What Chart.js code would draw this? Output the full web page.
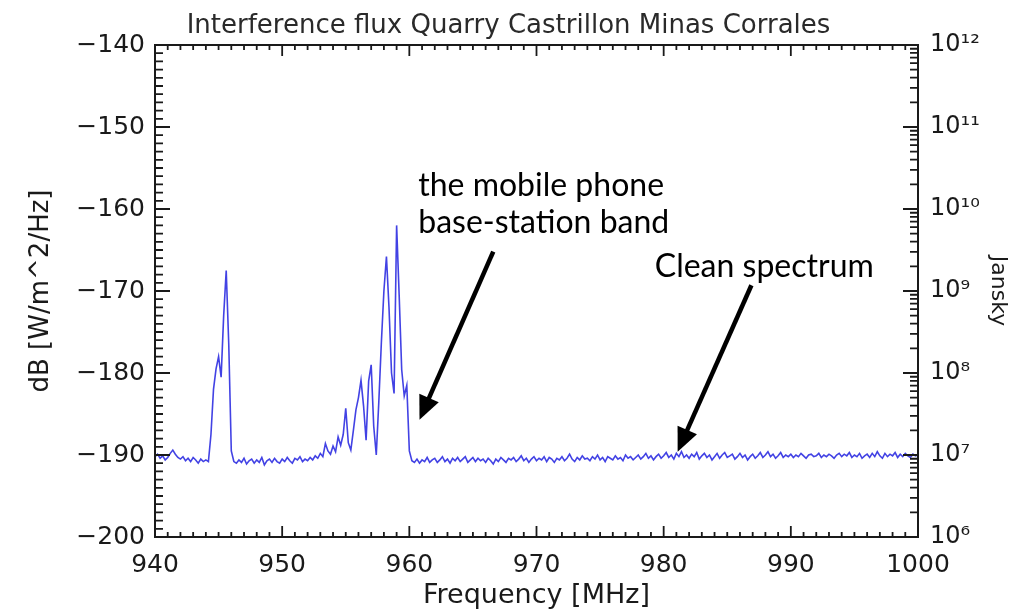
<!DOCTYPE html>
<html>
<head>
<meta charset="utf-8">
<title>Interference flux</title>
<script src="https://cdn.jsdelivr.net/npm/chart.js@4.4.0/dist/chart.umd.min.js"></script>
<style>
  html, body { margin: 0; padding: 0; background: #fff; }
  #wrap { width: 1017px; height: 612px; }
</style>
</head>
<body>
<div id="wrap"><canvas id="spectrum"></canvas></div>
<script>
// spectrum sampled every 0.2 MHz from 940 MHz
const freqStart = 940;
const freqStep = 0.2;
const fluxDb = [
  -190.2, -189.9, -190.4, -190.1, -190.6, -190.3, -189.8, -189.4, -189.9, -190.3,
  -190.5, -190.2, -190.7, -190.4, -190.8, -190.3, -190.6, -191.0, -190.5, -190.8,
  -190.6, -190.8, -187.5, -182.0, -179.5, -178.0, -180.5, -173.0, -167.5, -176.5,
  -189.5, -190.8, -191.0, -190.6, -190.9, -190.4, -191.1, -190.7, -190.5, -191.0,
  -190.6, -190.9, -190.3, -191.2, -190.7, -190.5, -190.9, -190.4, -190.8, -191.0,
  -190.5, -190.8, -190.3, -190.7, -191.0, -190.4, -190.6, -190.2, -190.8, -190.5,
  -190.7, -190.3, -190.6, -190.1, -190.4, -189.8, -190.2, -188.6, -189.5, -189.9,
  -188.9, -189.6, -187.8, -188.8, -187.5, -184.3, -188.5, -189.4, -187.0, -184.5,
  -183.0, -180.9, -184.0, -188.2, -181.0, -179.0, -186.5, -190.0, -183.5, -176.3,
  -170.0, -165.8, -172.0, -180.0, -182.5, -162.0, -170.5, -179.6, -182.8, -181.5,
  -189.5, -190.7, -190.9, -190.5, -191.0, -190.6, -190.8, -190.3, -190.9, -190.6,
  -190.4, -190.9, -190.6, -190.2, -190.8, -190.5, -191.0, -190.4, -190.7, -190.3,
  -190.8, -190.5, -190.2, -190.9, -190.6, -190.3, -190.8, -190.4, -190.7, -190.5,
  -190.9, -190.4, -190.7, -191.1, -190.5, -190.8, -190.3, -190.6, -190.9, -190.4,
  -190.6, -190.3, -190.8, -190.5, -190.1, -190.7, -190.4, -190.9, -190.5, -190.2,
  -190.7, -190.4, -190.6, -190.2, -190.8, -190.3, -190.5, -190.9, -190.4, -190.6,
  -190.2, -190.7, -190.4, -189.9, -190.5, -190.8, -190.3, -190.6, -190.1, -190.5,
  -190.4, -190.7, -190.2, -190.5, -190.0, -190.6, -190.3, -190.8, -190.2, -190.4,
  -190.6, -190.1, -190.5, -190.3, -190.7, -190.0, -190.4, -190.2, -190.6, -190.3,
  -190.0, -190.5, -190.2, -189.8, -190.4, -190.1, -190.6, -190.2, -189.9, -190.4,
  -190.1, -189.7, -190.3, -190.0, -190.5, -189.8, -190.2, -189.6, -190.3, -190.0,
  -190.4, -189.9, -190.2, -189.7, -190.5, -190.1, -189.8, -190.3, -190.0, -190.6,
  -190.2, -189.8, -190.4, -190.0, -189.7, -190.3, -190.1, -189.9, -190.5, -190.2,
  -189.8, -190.3, -190.0, -190.6, -190.2, -189.9, -190.4, -190.1, -189.7, -190.3,
  -190.0, -189.6, -190.2, -189.9, -190.4, -190.1, -189.7, -190.3, -190.0, -190.2,
  -189.9, -190.3, -190.0, -190.2, -189.8, -190.1, -190.4, -190.0, -189.9, -190.2,
  -190.1, -189.8, -190.3, -190.0, -190.2, -189.9, -190.1, -190.4, -190.0, -189.8,
  -190.2, -189.9, -190.1, -189.7, -190.3, -190.0, -190.2, -189.8, -190.4, -190.1,
  -189.9, -190.3, -189.8, -190.2, -189.6, -190.1, -190.4, -189.8, -190.2, -189.9,
  -190.1, -189.7, -190.3, -189.9, -190.2, -189.8, -190.1, -190.3, -189.9, -190.1,
  -190.0
];

const freqTicks = [940, 950, 960, 970, 980, 990, 1000];
const dbTicks = [-200, -190, -180, -170, -160, -150, -140];
const janskyTicks = [1e6, 1e7, 1e8, 1e9, 1e10, 1e11, 1e12];
const janskyLabels = ['10\u2076', '10\u2077', '10\u2078', '10\u2079', '10\u00b9\u2070', '10\u00b9\u00b9', '10\u00b9\u00b2'];

// callouts, placed in (MHz, dB)
const notes = [
  { lines: ['the mobile phone', 'base-station band'], at: [960.7, -157.1], tail: [966.6, -165.2], tip: [960.8, -185.7] },
  { lines: ['Clean spectrum'], at: [979.3, -167.0], tail: [986.9, -169.3], tip: [981.1, -189.6] }
];

const points = fluxDb.map((v, i) => ({ x: +(freqStart + i * freqStep).toFixed(1), y: v }));

const axisFont = { family: 'DejaVu Sans', size: 25 };
const ink = '#1a1a1a';

// IDL style frame with inward ticks on all four sides, plus the arrows
const framePlugin = {
  id: 'frame',
  afterDraw(chart) {
    const ctx = chart.ctx;
    const { left, right, top, bottom } = chart.chartArea;
    const sx = chart.scales.x, sy = chart.scales.y, sj = chart.scales.jy;
    ctx.save();
    ctx.strokeStyle = ink;
    ctx.lineWidth = 2;
    ctx.strokeRect(left, top, right - left, bottom - top);

    ctx.lineWidth = 1.8;
    ctx.beginPath();
    for (let f = 940; f <= 1000; f++) {
      const px = sx.getPixelForValue(f);
      const len = f % 10 === 0 ? 11 : 5;
      ctx.moveTo(px, bottom); ctx.lineTo(px, bottom - len);
      ctx.moveTo(px, top); ctx.lineTo(px, top + len);
    }
    for (let d = -200; d <= -140; d++) {
      const py = sy.getPixelForValue(d);
      const len = d % 10 === 0 ? 15 : 8;
      ctx.moveTo(left, py); ctx.lineTo(left + len, py);
    }
    for (let e = 6; e <= 12; e++) {
      for (let m = 1; m <= 9; m++) {
        if (e === 12 && m > 1) break;
        const py = sj.getPixelForValue(m * Math.pow(10, e));
        const len = m === 1 ? 15 : 8;
        ctx.moveTo(right, py); ctx.lineTo(right - len, py);
      }
    }
    ctx.stroke();

    // callouts
    ctx.fillStyle = '#000';
    ctx.strokeStyle = '#000';
    ctx.font = '32px Lato';
    ctx.textBaseline = 'middle';
    notes.forEach(n => {
      const tx = sx.getPixelForValue(n.at[0]);
      let ty = sy.getPixelForValue(n.at[1]);
      n.lines.forEach(line => { ctx.fillText(line, tx, ty); ty += 37; });

      const x0 = sx.getPixelForValue(n.tail[0]), y0 = sy.getPixelForValue(n.tail[1]);
      const x1 = sx.getPixelForValue(n.tip[0]), y1 = sy.getPixelForValue(n.tip[1]);
      const ang = Math.atan2(y1 - y0, x1 - x0);
      const head = 26;
      ctx.lineWidth = 4.5;
      ctx.beginPath();
      ctx.moveTo(x0, y0);
      ctx.lineTo(x1 - Math.cos(ang) * head * 0.8, y1 - Math.sin(ang) * head * 0.8);
      ctx.stroke();
      ctx.beginPath();
      ctx.moveTo(x1, y1);
      ctx.lineTo(x1 - head * Math.cos(ang - 0.42), y1 - head * Math.sin(ang - 0.42));
      ctx.lineTo(x1 - head * Math.cos(ang + 0.42), y1 - head * Math.sin(ang + 0.42));
      ctx.closePath();
      ctx.fill();
    });
    ctx.restore();
  }
};

new Chart(document.getElementById('spectrum'), {
  type: 'line',
  data: {
    datasets: [{
      data: points,
      borderColor: 'rgba(45, 45, 225, 0.9)',
      borderWidth: 1.6,
      pointRadius: 0,
      tension: 0,
      fill: false
    }]
  },
  options: {
    responsive: true,
    maintainAspectRatio: false,
    animation: false,
    parsing: false,
    layout: { padding: 0 },
    plugins: {
      legend: { display: false },
      tooltip: { enabled: false },
      title: {
        display: true,
        text: 'Interference flux Quarry Castrillon Minas Corrales',
        color: '#2a2a2a',
        font: { family: 'DejaVu Sans', size: 26, weight: 'normal' },
        padding: { top: 11, bottom: 2.8 }
      }
    },
    scales: {
      x: {
        type: 'linear',
        position: 'bottom',
        min: 940,
        max: 1000,
        afterFit: s => { s.height = 75; },
        afterBuildTicks: s => { s.ticks = freqTicks.map(v => ({ value: v })); },
        grid: { display: false, drawTicks: false },
        border: { display: false },
        ticks: { padding: 13, color: ink, font: axisFont, maxRotation: 0, autoSkip: false, callback: v => String(v) },
        title: {
          display: true,
          text: 'Frequency [MHz]',
          color: ink,
          font: { family: 'DejaVu Sans', size: 27 },
          padding: { top: 0, bottom: 0 }
        }
      },
      y: {
        type: 'linear',
        position: 'left',
        min: -200,
        max: -140,
        afterFit: s => { s.width = 155; },
        afterBuildTicks: s => { s.ticks = dbTicks.map(v => ({ value: v })); },
        grid: { display: false, drawTicks: false },
        border: { display: false },
        ticks: {
          padding: 10,
          color: ink,
          font: axisFont,
          callback: v => String(v).replace('-', '\u2212')
        },
        title: {
          display: true,
          text: 'dB [W/m^2/Hz]',
          color: ink,
          font: { family: 'DejaVu Sans', size: 26 },
          padding: { top: 26, bottom: 0 }
        }
      },
      jy: {
        type: 'logarithmic',
        position: 'right',
        min: 1e6,
        max: 1e12,
        afterFit: s => { s.width = 99; },
        afterBuildTicks: s => { s.ticks = janskyTicks.map(v => ({ value: v })); },
        grid: { display: false, drawTicks: false },
        border: { display: false },
        ticks: {
          padding: 12,
          color: ink,
          font: { family: 'DejaVu Sans', size: 24 },
          autoSkip: false,
          callback: (v, i) => janskyLabels[i]
        },
        title: {
          display: true,
          text: 'Jansky',
          color: ink,
          font: { family: 'DejaVu Sans', size: 22 },
          padding: { top: 6, bottom: 0 }
        }
      }
    }
  },
  plugins: [framePlugin]
});
</script>
</body>
</html>
